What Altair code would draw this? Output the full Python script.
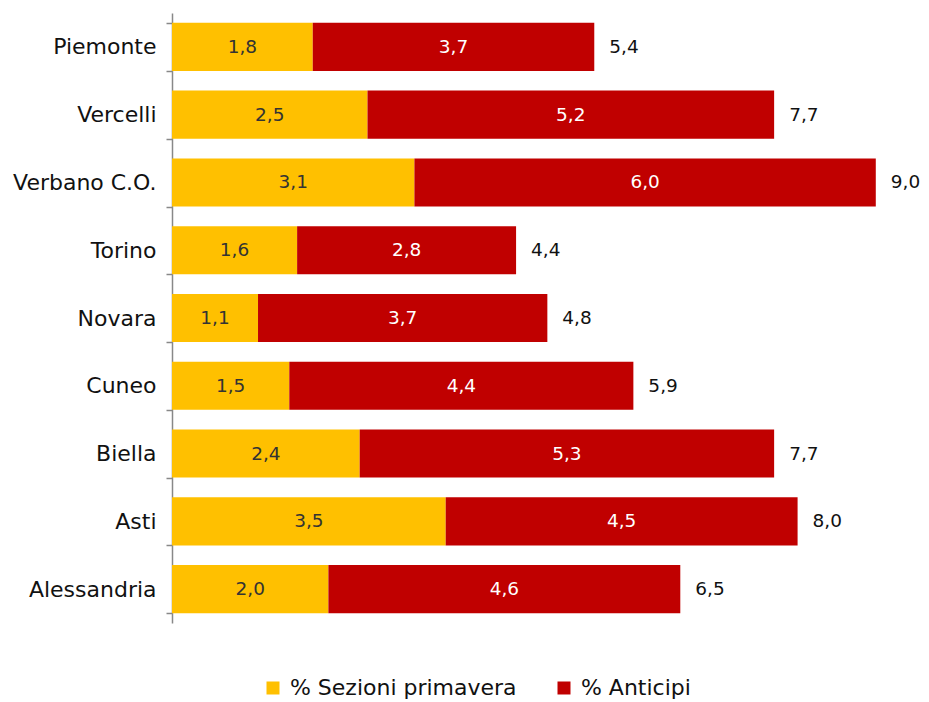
import altair as alt
import pandas as pd

regions = ["Piemonte", "Vercelli", "Verbano C.O.", "Torino", "Novara", "Cuneo", "Biella", "Asti", "Alessandria"]
sezioni = [1.8, 2.5, 3.1, 1.6, 1.1, 1.5, 2.4, 3.5, 2.0]
anticipi = [3.7, 5.2, 6.0, 2.8, 3.7, 4.4, 5.3, 4.5, 4.6]
totals = [5.4, 7.7, 9.0, 4.4, 4.8, 5.9, 7.7, 8.0, 6.5]
series = ["% Sezioni primavera", "% Anticipi"]
colors = ["#FFC000", "#C00000"]

# segments: yellow from 0 to sezioni, red from sezioni to total (labels show the listed values)
rows = []
for r, s, a, t in zip(regions, sezioni, anticipi, totals):
    rows.append({"region": r, "series": series[0], "start": 0.0, "end": s, "value": s})
    rows.append({"region": r, "series": series[1], "start": s, "end": t, "value": a})
seg = pd.DataFrame(rows)
tot = pd.DataFrame({"region": regions, "total": totals})

FONT = "DejaVu Sans"
PX = 78.2
XMAX = 9.5

y = alt.Y("region:N", sort=regions, title=None,
          scale=alt.Scale(paddingInner=0.29, paddingOuter=0.145, round=False),
          axis=alt.Axis(tickBand="extent", domainColor="#888888", tickColor="#888888",
                        tickSize=6, labelFontSize=22, labelColor="#111111", labelFont=FONT,
                        labelPadding=10, minExtent=170, maxExtent=170, domainWidth=1.5, tickWidth=1.5))
xs = alt.Scale(domain=[0, XMAX], nice=False)

bars = alt.Chart(seg).mark_bar().encode(
    x=alt.X("start:Q", scale=xs, axis=None),
    x2="end:Q",
    y=y,
    color=alt.Color("series:N", sort=series, scale=alt.Scale(domain=series, range=colors),
                    legend=alt.Legend(title=None, orient="none", legendX=90, legendY=664,
                                      direction="horizontal",
                                      symbolType="square", symbolSize=169, symbolStrokeWidth=0,
                                      labelFontSize=22, labelFont=FONT, labelColor="#111111",
                                      labelLimit=400, columnPadding=36, symbolOffset=0,
                                      labelOffset=6)),
)

inner = alt.Chart(seg).transform_calculate(
    mid="(datum.start + datum.end) / 2",
    label="replace(format(datum.value, '.1f'), '.', ',')",
).mark_text(fontSize=18.5, font=FONT).encode(
    x=alt.X("mid:Q", scale=xs, axis=None),
    y=alt.Y("region:N", sort=regions, title=None),
    text="label:N",
    color=alt.Color("series:N", scale=alt.Scale(domain=series, range=["#333333", "#FFFFFF"]), legend=None),
)

outer = alt.Chart(tot).transform_calculate(
    label="replace(format(datum.total, '.1f'), '.', ',')"
).mark_text(fontSize=18.5, font=FONT, align="left", dx=15, color="#111111").encode(
    x=alt.X("total:Q", scale=xs, axis=None),
    y=alt.Y("region:N", sort=regions, title=None),
    text="label:N",
)

chart = alt.layer(bars, inner, outer).resolve_scale(color="independent").properties(
    width=XMAX * PX, height=610, padding={"left": -6, "top": -6, "right": 0, "bottom": 0}
).configure_view(stroke=None)

chart.save("out.html", embed_options={"renderer": "svg", "actions": False})
